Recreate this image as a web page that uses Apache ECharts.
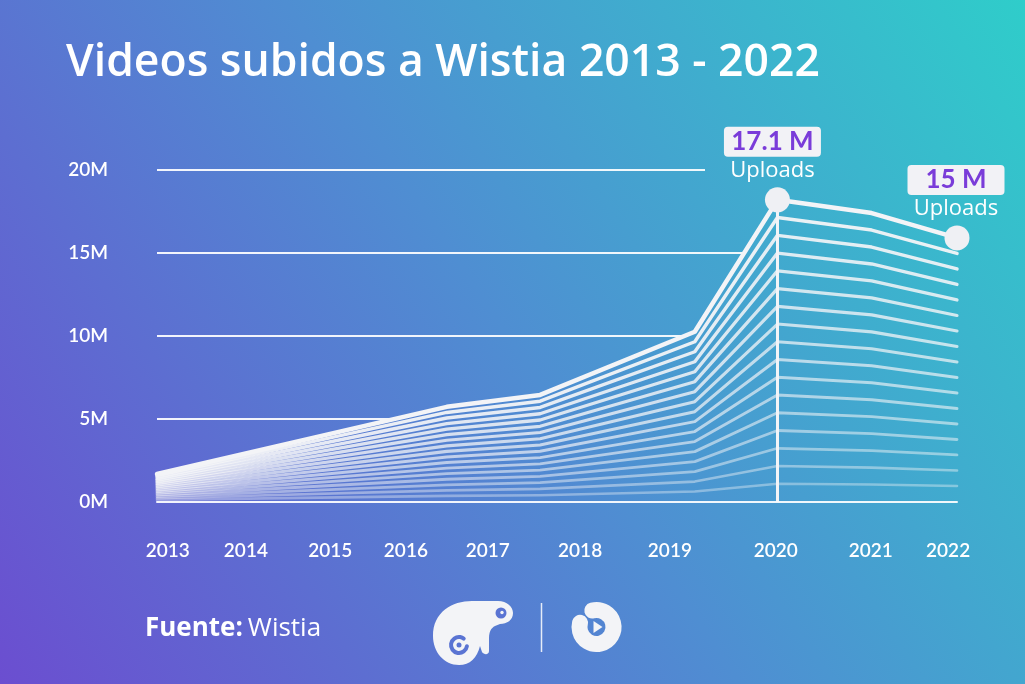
<!DOCTYPE html>
<html><head><meta charset="utf-8">
<script src="https://cdn.jsdelivr.net/npm/echarts@6/dist/echarts.min.js"></script>
<style>html,body{margin:0;padding:0;background:#4f8fd2;}#c{width:1025px;height:684px;}</style>
</head><body><div id="c"></div>
<script>
// ---- data ----
const years   = [2013, 2016.26, 2017.31, 2019.05, 2019.98, 2021.04, 2022];
const uploads = [1.66, 5.71, 6.43, 10.24, 18.2, 17.4, 15.9];   // millions (as drawn)
const yTicks  = [0, 5, 10, 15, 20];
const xTickLabels = ['2013','2014','2015','2016','2017','2018','2019','2020','2021','2022'];
const annotIndex = [4, 6];
const annotValue = ['17.1 M', '15 M'];
const annotSub   = 'Uploads';
const titleText  = 'Videos subidos a Wistia 2013 - 2022';
const sourceLabel = 'Fuente:';
const sourceName  = 'Wistia';

// ---- layout (label placement along the x axis, gridline end) ----
const xLabelAt = [2013.12, 2014.0, 2014.95, 2015.80, 2016.72, 2017.76, 2018.77, 2019.96, 2021.03, 2021.90];
const topGridEnd = 2019.165;
const FAN = 17;
const FONT = 'Lato, "Noto Sans", sans-serif';
const FONT2 = '"Open Sans", Lato, sans-serif';

const bgStops = [
  {offset: 0, color: '#6b4ed0'},
  {offset: 0.5, color: '#4f8ed2'},
  {offset: 1, color: '#2fcdca'}
];
const bgGrad = {type: 'linear', x: 0, y: 1, x2: 1, y2: 0, colorStops: bgStops};
const areaGrad = {type: 'linear', x: 0, y: 684, x2: 1025, y2: 0, global: true, colorStops: bgStops};

const topLine = years.map((y, i) => [y, uploads[i]]);

// chameleon silhouette shape for the footer logo
const ChameleonShape = echarts.graphic.extendPath(
  'M433,636 C433,612 452,601 472,601 L498,601 C507,601 513,607 513,613 C513,620 507,624 500,624 L495,626 C491,628 489,632 489,638 L489,651 C489,655 484,655 482,652 L480,646 C477,658 470,665 459,665 C444,665 433,652 433,636 Z',
  {}
);
echarts.graphic.registerShape('chameleonLogo', ChameleonShape);

const series = [];
// gridlines
series.push({
  type: 'line', data: [[2013, 0]], showSymbol: false, silent: true, z: 0,
  lineStyle: {opacity: 0},
  markLine: {
    z: 0, silent: true, symbol: 'none', label: {show: false},
    lineStyle: {color: 'rgba(255,255,255,0.92)', width: 2, type: 'solid'},
    data: yTicks.filter(v => v > 0).map(v => [
      {coord: [2013, v]}, {coord: [v === 20 ? topGridEnd : 2022, v]}
    ])
  }
});
// area cover (same gradient as background) hides gridlines under the curve
series.push({
  type: 'line', data: topLine, showSymbol: false, silent: true, z: 1,
  lineStyle: {width: 0, opacity: 0},
  areaStyle: {color: areaGrad, opacity: 1}
});
// fan of lines
for (let k = 1; k <= FAN; k++) {
  const f = k / FAN;
  series.push({
    type: 'line', showSymbol: false, silent: true, z: 2,
    data: topLine.map(p => [p[0], p[1] * f]),
    lineStyle: {
      color: '#f3f4f7',
      opacity: k === FAN ? 1 : 0.32 + 0.66 * Math.pow(f, 0.8),
      width: k === FAN ? 4.5 : 2.6 + 0.9 * f,
      cap: 'round', join: 'round'
    }
  });
}
// vertical marker at 2020
series.push({
  type: 'line', data: [[2013, 0]], showSymbol: false, silent: true, z: 3,
  lineStyle: {opacity: 0},
  markLine: {
    z: 3, silent: true, symbol: 'none', label: {show: false},
    lineStyle: {color: '#f3f4f7', width: 3, type: 'solid', opacity: 1},
    data: [[{coord: [years[annotIndex[0]], 0]}, {coord: [years[annotIndex[0]], uploads[annotIndex[0]]]}]]
  }
});
// annotated points
series.push({
  type: 'scatter', z: 6, silent: true,
  symbolSize: 25,
  itemStyle: {color: '#eff0f4', opacity: 1},
  data: annotIndex.map((idx, j) => ({
    value: [years[idx], uploads[idx]],
    label: {offset: j === 0 ? [-5, 0] : [-1, 0]},
    name: annotValue[j]
  })),
  label: {
    show: true, position: 'top', distance: 3,
    formatter: p => '{v|' + p.name + '}\n{u|' + annotSub + '}',
    rich: {
      v: {fontFamily: FONT, fontSize: 26, fontWeight: 'bold', color: '#7a3cd9',
          backgroundColor: '#f2f2f6', borderRadius: 4, padding: [2, 10, 2, 10],
          width: 77, align: 'center', lineHeight: 29},
      u: {fontFamily: FONT2, fontSize: 22, fontWeight: 500, color: '#ffffff',
          lineHeight: 28, align: 'center'}
    }
  }
});

const chart = echarts.init(document.getElementById('c'), null, {renderer: 'canvas'});
chart.setOption({
  backgroundColor: bgGrad,
  animation: false,
  title: [
    {text: titleText, left: 61, top: 36,
     textStyle: {color: '#ffffff', fontFamily: FONT2, fontSize: 44.5, fontWeight: 600}},
    {text: '{b|' + sourceLabel + '} {r|' + sourceName + '}', left: 140, top: 611,
     textStyle: {rich: {
       b: {color: '#ffffff', fontFamily: FONT2, fontSize: 26, fontWeight: 'bold'},
       r: {color: '#ffffff', fontFamily: FONT2, fontSize: 26, fontWeight: 'normal'}
     }}}
  ],
  grid: {left: 157, right: 68, top: 170, bottom: 182.5, outerBoundsMode: 'none'},
  xAxis: {
    type: 'value', min: 2013, max: 2022, z: 10,
    axisLine: {show: true, lineStyle: {color: 'rgba(255,255,255,0.92)', width: 2}},
    axisTick: {show: false}, splitLine: {show: false},
    axisLabel: {
      customValues: xLabelAt, margin: 40,
      color: '#ffffff', fontFamily: FONT, fontSize: 19, fontWeight: 600,
      formatter: v => {
        let best = 0;
        xLabelAt.forEach((p, i) => { if (Math.abs(p - v) < Math.abs(xLabelAt[best] - v)) best = i; });
        return xTickLabels[best];
      }
    }
  },
  yAxis: {
    type: 'value', min: 0, max: 20, interval: 5,
    axisLine: {show: false}, axisTick: {show: false}, splitLine: {show: false},
    axisLabel: {formatter: '{value}M', margin: 49, color: '#ffffff',
                fontFamily: FONT, fontSize: 19, fontWeight: 600}
  },
  series: series,
  graphic: [
    // chameleon logo (approximate silhouette)
    {type: 'chameleonLogo', silent: true, style: {fill: '#f3f4f7'}},
    {type: 'circle', shape: {cx: 501, cy: 613, r: 5.5}, style: {fill: '#5a74d3'}, silent: true},
    {type: 'circle', shape: {cx: 502, cy: 612.5, r: 1.7}, style: {fill: '#f3f4f7'}, silent: true},
    {type: 'arc', shape: {cx: 459, cy: 645, r: 8, startAngle: Math.PI * 0.05, endAngle: Math.PI * 1.7}, style: {stroke: '#5a74d3', lineWidth: 4, fill: null, lineCap: 'round'}, silent: true},
    {type: 'circle', shape: {cx: 459, cy: 645, r: 2.5}, style: {fill: '#5a74d3'}, silent: true},
    // separator
    {type: 'line', shape: {x1: 541.5, y1: 603, x2: 541.5, y2: 652}, style: {stroke: 'rgba(255,255,255,0.85)', lineWidth: 1.5}, silent: true},
    // round play logo (approximate)
    {type: 'arc', shape: {cx: 596.5, cy: 627, r: 17, startAngle: Math.PI * 1.42, endAngle: Math.PI * 3.08, clockwise: true}, style: {stroke: '#f3f4f7', lineWidth: 16, fill: null, lineCap: 'round'}, silent: true},
    {type: 'polygon', shape: {points: [[593.5, 621], [593.5, 633], [602.5, 627]]}, style: {fill: '#f3f4f7'}, silent: true}
  ]
});
</script>
</body></html>
